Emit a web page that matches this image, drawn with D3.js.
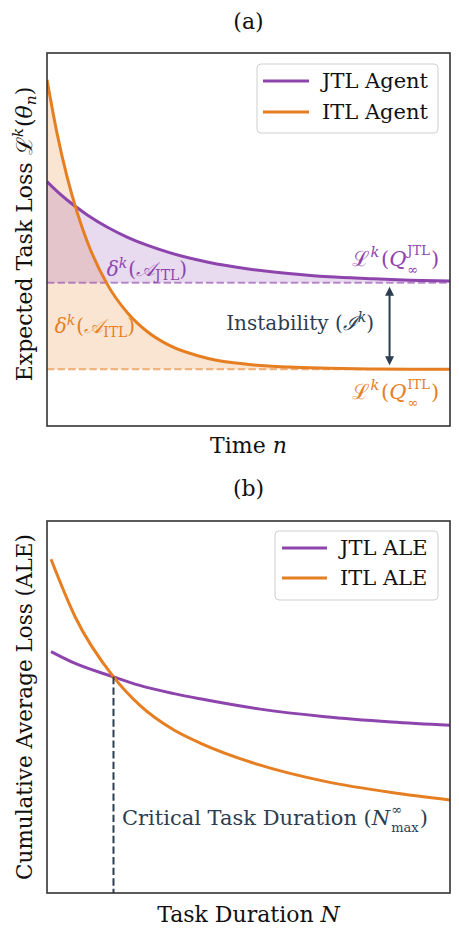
<!DOCTYPE html>
<html><head><meta charset="utf-8">
<script src="https://cdn.jsdelivr.net/npm/d3@7"></script>
<style>body{margin:0;background:#fff}svg{display:block}text{white-space:pre}</style>
</head><body>
<svg id="c" width="459" height="940"></svg>
<script>
// ---------- data ----------
const timeN   = [0,0.25,0.5,0.75,1,1.5,2,2.5,3,4,5,6,7,8,9,10];
const jtlLoss = [6.55,6.29,6.06,5.85,5.66,5.33,5.06,4.84,4.66,4.39,4.21,4.09,4.00,3.95,3.91,3.89];
const itlLoss = [9.28,7.84,6.67,5.72,4.94,3.79,3.03,2.52,2.18,1.81,1.65,1.58,1.55,1.53,1.52,1.52];
const jtlAsym = 3.84;
const itlAsym = 1.52;
const durationN = [1,7,16.5,23,31.5,38,52.5,69,85.5,100];
const jtlALE    = [6.49,6.17,5.81,5.58,5.36,5.22,4.95,4.74,4.60,4.51];
const itlALE    = [8.97,7.42,5.81,5.05,4.38,4.03,3.45,3.00,2.70,2.50];
const criticalN = 16.5;
const legendA = ["JTL Agent","ITL Agent"];
const legendB = ["JTL ALE","ITL ALE"];

const PURPLE = "#8e44ad", ORANGE = "#e67e22", DARK = "#2c3e50";
const SERIF = "DejaVu Serif, serif";
const svg = d3.select("#c");

// ---------- math text helper ----------
function mathText(g, x, y, parts, opt) {
  const base = opt.size, color = opt.color, anchor = opt.anchor || "start";
  const grp = g.append("g");
  let cx = 0, prevStart = 0, prevW = 0;
  parts.forEach((p, idx) => {
    const lvl = p.l || 0;
    const stacked = p.stack || (parts[idx + 1] && parts[idx + 1].stack);
    const fs = lvl === 0 ? base : base * (stacked ? 0.62 : 0.7);
    let dy = 0;
    if (lvl === 1) dy = (stacked ? -0.5 : -0.42) * base;
    if (lvl === -1) dy = (stacked ? 0.36 : 0.2) * base;
    const startX = (p.stack ? prevStart : cx) + (p.lpad || 0);
    const t = grp.append("text").attr("x", startX).attr("y", dy)
      .attr("font-family", SERIF).attr("font-size", fs)
      .attr("font-style", p.i ? "italic" : "normal")
      .attr("fill", color).text(p.t);
    const w = t.node().getComputedTextLength() + (p.pad || 0) + (p.lpad || 0);
    if (p.stack) { cx = prevStart + Math.max(prevW, w); }
    else { prevStart = cx; prevW = w; cx += w; }
  });
  let shift = 0;
  if (anchor === "middle") shift = -cx / 2;
  if (anchor === "end") shift = -cx;
  grp.attr("transform", `translate(${x + shift},${y})`);
  return grp;
}

function axesFrame(g, x0, x1, y0, y1) {
  g.append("rect").attr("x", x0).attr("y", y0).attr("width", x1 - x0).attr("height", y1 - y0)
    .attr("fill", "none").attr("stroke", "#333").attr("stroke-width", 1.6);
}

function legend(g, x, y, w, h, labels, colors, lineX0, lineX1, textX, rowY) {
  g.append("rect").attr("x", x).attr("y", y).attr("width", w).attr("height", h)
    .attr("rx", 4).attr("fill", "#fff").attr("fill-opacity", 0.85)
    .attr("stroke", "#cfcfcf").attr("stroke-width", 1);
  labels.forEach((lab, i) => {
    g.append("line").attr("x1", lineX0).attr("x2", lineX1).attr("y1", rowY[i]).attr("y2", rowY[i])
      .attr("stroke", colors[i]).attr("stroke-width", 3);
    g.append("text").attr("x", textX).attr("y", rowY[i] + 7).attr("font-family", SERIF)
      .attr("font-size", 21).attr("fill", "#111").text(lab);
  });
}

// ================= Panel (a) =================
const A = {l: 47, r: 450, t: 53, b: 426};
const xa = d3.scaleLinear().domain([0, 10]).range([A.l, A.r]);
const ya = d3.scaleLinear().domain([0, 10]).range([A.b, A.t]);
const ga = svg.append("g");
ga.append("defs").append("clipPath").attr("id", "clipA").append("rect")
  .attr("x", A.l).attr("y", A.t).attr("width", A.r - A.l).attr("height", A.b - A.t);
const pa = ga.append("g").attr("clip-path", "url(#clipA)");

const dataJ = timeN.map((n, i) => ({n, v: jtlLoss[i]}));
const dataI = timeN.map((n, i) => ({n, v: itlLoss[i]}));

const areaJ = d3.area().x(d => xa(d.n)).y0(ya(jtlAsym)).y1(d => ya(d.v)).curve(d3.curveMonotoneX);
const areaI = d3.area().x(d => xa(d.n)).y0(ya(itlAsym)).y1(d => ya(d.v)).curve(d3.curveMonotoneX);
pa.append("path").datum(dataI).attr("d", areaI).attr("fill", ORANGE).attr("fill-opacity", 0.2);
pa.append("path").datum(dataJ).attr("d", areaJ).attr("fill", PURPLE).attr("fill-opacity", 0.2);

[[jtlAsym, PURPLE], [itlAsym, ORANGE]].forEach(([v, c]) => {
  pa.append("line").attr("x1", xa(0)).attr("x2", xa(10)).attr("y1", ya(v)).attr("y2", ya(v))
    .attr("stroke", c).attr("stroke-width", 2).attr("stroke-opacity", 0.6).attr("stroke-dasharray", "7.4,3.2");
});

const lineA = d3.line().x(d => xa(d.n)).y(d => ya(d.v)).curve(d3.curveMonotoneX);
pa.append("path").datum(dataJ).attr("d", lineA).attr("fill", "none").attr("stroke", PURPLE).attr("stroke-width", 3);
pa.append("path").datum(dataI).attr("d", lineA).attr("fill", "none").attr("stroke", ORANGE).attr("stroke-width", 3);

// instability arrow
const arrX = xa(8.5);
const yTop = ya(jtlAsym) + 4, yBot = ya(itlAsym) - 4;
ga.append("line").attr("x1", arrX).attr("x2", arrX).attr("y1", yTop + 6).attr("y2", yBot - 6)
  .attr("stroke", DARK).attr("stroke-width", 2);
ga.append("path").attr("d", `M${arrX},${yTop} l-4.5,9 l9,0 Z`).attr("fill", DARK);
ga.append("path").attr("d", `M${arrX},${yBot} l-4.5,-9 l9,0 Z`).attr("fill", DARK);

// annotations
const ANN = 20;
mathText(ga, xa(2.48), ya(4.02), [
  {t: "δ", i: true}, {t: "k", i: true, l: 1, pad: 1}, {t: "("}, {t: "𝒜", i: true}, {t: "JTL", l: -1}, {t: ")"}
], {size: ANN, color: PURPLE, anchor: "middle"});
mathText(ga, xa(1.19), ya(2.49), [
  {t: "δ", i: true}, {t: "k", i: true, l: 1, pad: 1}, {t: "("}, {t: "𝒜", i: true}, {t: "ITL", l: -1}, {t: ")"}
], {size: ANN, color: ORANGE, anchor: "middle"});
mathText(ga, xa(9.73), ya(4.29), [
  {t: "ℒ"}, {t: "k", i: true, l: 1, pad: 1.5, lpad: 0.5}, {t: "("}, {t: "Q", i: true, pad: 1},
  {t: "∞", l: -1}, {t: "JTL", l: 1, stack: true}, {t: ")", lpad: 1}
], {size: 21, color: PURPLE, anchor: "end"});
mathText(ga, xa(9.73), ya(0.72), [
  {t: "ℒ"}, {t: "k", i: true, l: 1, pad: 1.5, lpad: 0.5}, {t: "("}, {t: "Q", i: true, pad: 1},
  {t: "∞", l: -1}, {t: "ITL", l: 1, stack: true}, {t: ")", lpad: 1}
], {size: 21, color: ORANGE, anchor: "end"});
mathText(ga, xa(6.28), ya(2.57), [
  {t: "Instability ("}, {t: "ℐ", i: true}, {t: "k", i: true, l: 1}, {t: ")"}
], {size: ANN, color: DARK, anchor: "middle"});

axesFrame(ga, A.l, A.r, A.t, A.b);
legend(ga, 257, 64, 181, 69, legendA, [PURPLE, ORANGE], 263, 309, 322, [81, 112]);

// title, labels
ga.append("text").attr("x", (A.l + A.r) / 2).attr("y", 29).attr("text-anchor", "middle")
  .attr("font-family", SERIF).attr("font-size", 22).attr("fill", "#111").text("(a)");
mathText(ga, (A.l + A.r) / 2, 453, [{t: "Time "}, {t: "n", i: true}], {size: 22, color: "#111", anchor: "middle"});
{
  const g = ga.append("g").attr("transform", `translate(32,234) rotate(-90)`);
  mathText(g, 0, 0, [{t: "Expected Task Loss "}, {t: "ℒ"}, {t: "k", i: true, l: 1, pad: 1}, {t: "("}, {t: "θ", i: true}, {t: "n", i: true, l: -1}, {t: ")"}],
    {size: 22, color: "#111", anchor: "middle"});
}

// ================= Panel (b) =================
const B = {l: 47, r: 450, t: 521, b: 893};
const xb = d3.scaleLinear().domain([0, 100]).range([B.l, B.r]);
const yb = d3.scaleLinear().domain([0, 10]).range([B.b, B.t]);
const gb = svg.append("g");
const dataJB = durationN.map((n, i) => ({n, v: jtlALE[i]}));
const dataIB = durationN.map((n, i) => ({n, v: itlALE[i]}));
const lineB = d3.line().x(d => xb(d.n)).y(d => yb(d.v)).curve(d3.curveMonotoneX);
gb.append("path").datum(dataJB).attr("d", lineB).attr("fill", "none").attr("stroke", PURPLE).attr("stroke-width", 3);
gb.append("path").datum(dataIB).attr("d", lineB).attr("fill", "none").attr("stroke", ORANGE).attr("stroke-width", 3);

const critV = jtlALE[durationN.indexOf(criticalN)];
gb.append("line").attr("x1", xb(criticalN)).attr("x2", xb(criticalN)).attr("y1", yb(critV)).attr("y2", B.b)
  .attr("stroke", DARK).attr("stroke-width", 2).attr("stroke-dasharray", "7.4,3.2");

mathText(gb, xb(18.6), yb(1.83), [
  {t: "Critical Task Duration ("}, {t: "N", i: true, pad: 1}, {t: "max", l: -1}, {t: "∞", l: 1, stack: true}, {t: ")", lpad: 1}
], {size: 21, color: DARK, anchor: "start"});

axesFrame(gb, B.l, B.r, B.t, B.b);
legend(gb, 275, 531, 163, 69, legendB, [PURPLE, ORANGE], 282, 327, 340, [548, 578]);

gb.append("text").attr("x", (B.l + B.r) / 2).attr("y", 496).attr("text-anchor", "middle")
  .attr("font-family", SERIF).attr("font-size", 22).attr("fill", "#111").text("(b)");
mathText(gb, (B.l + B.r) / 2, 922, [{t: "Task Duration "}, {t: "N", i: true}], {size: 22, color: "#111", anchor: "middle"});
{
  const g = gb.append("g").attr("transform", `translate(32,${(B.t + B.b) / 2}) rotate(-90)`);
  mathText(g, 0, 0, [{t: "Cumulative Average Loss (ALE)"}], {size: 21.5, color: "#111", anchor: "middle"});
}
</script>
</body></html>
